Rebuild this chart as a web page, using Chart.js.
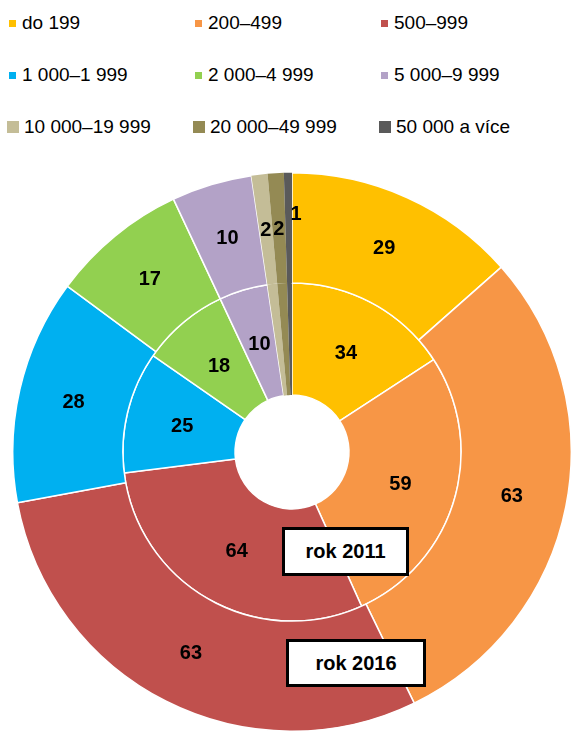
<!DOCTYPE html>
<html>
<head>
<meta charset="utf-8">
<script src="https://cdn.jsdelivr.net/npm/chart.js@4"></script>
<style>
  html, body { margin: 0; padding: 0; background: #fff; overflow: hidden; }
  body { width: 571px; height: 731px; position: relative; font-family: "Liberation Sans", Arial, sans-serif; }
  #legend .item { position: absolute; font-size: 19px; color: #000; white-space: nowrap; line-height: 22px; }
  #legend .box { position: absolute; }
  #chartBox { position: absolute; left: 12px; top: 172px; width: 560px; height: 560px; }
  .tag { position: absolute; box-sizing: border-box; border: 3px solid #000; background: #fff;
         font-weight: bold; font-size: 20px; text-align: center; }
</style>
</head>
<body>
<div id="legend"></div>
<div id="chartBox"><canvas id="myChart" width="560" height="560"></canvas></div>
<div class="tag" style="left:282px;top:527px;width:127px;height:49px;line-height:43px;">rok 2011</div>
<div class="tag" style="left:286px;top:639px;width:140px;height:48px;line-height:42px;">rok 2016</div>
<script>
const categories = ["do 199", "200–499", "500–999", "1 000–1 999", "2 000–4 999",
  "5 000–9 999", "10 000–19 999", "20 000–49 999", "50 000 a více"];
const values2016 = [29, 63, 63, 28, 17, 10, 2, 2, 1];
const values2011 = [34, 59, 64, 25, 18, 10, 2, 2, 1];
const colors = ["#FFC000", "#F79646", "#C0504D", "#00B0F0", "#92D050",
  "#B3A2C7", "#C4BD97", "#948A54", "#5A5A5A"];

// legend in 3 columns
const legend = document.getElementById("legend");
const colX = [9, 195, 381];
const rowY = [12, 64, 116];
categories.forEach((name, i) => {
  const col = i % 3;
  const row = Math.floor(i / 3);
  const big = row === 2;
  const size = big ? 12 : 7;
  const box = document.createElement("div");
  box.className = "box";
  box.style.left = (colX[col] - (big ? 2 : 0)) + "px";
  box.style.top = (rowY[row] + 11 - size / 2) + "px";
  box.style.width = size + "px";
  box.style.height = size + "px";
  box.style.background = colors[i];
  legend.appendChild(box);
  const item = document.createElement("div");
  item.className = "item";
  item.style.left = (colX[col] + (big ? 15 : 13)) + "px";
  item.style.top = rowY[row] + "px";
  item.textContent = name;
  legend.appendChild(item);
});

const borders = [1.5, 1.5, 1.5, 1.5, 1.5, 1.5, 0, 0, 0];

const labelPlugin = {
  id: "sliceLabels",
  afterDatasetsDraw(chart) {
    const ctx = chart.ctx;
    ctx.save();
    ctx.font = "bold 20px 'Liberation Sans', Arial, sans-serif";
    ctx.fillStyle = "#000";
    ctx.textAlign = "center";
    ctx.textBaseline = "middle";
    chart.data.datasets.forEach((ds, d) => {
      const meta = chart.getDatasetMeta(d);
      meta.data.forEach((arc, i) => {
        if (d === 1 && i > 5) return; // inner small slices have no labels
        let p = arc.getCenterPoint();
        if (d === 0 && i === 8) {
          // last tiny slice: label pushed outward so it does not collide
          p = { x: arc.x + 4, y: arc.y - arc.outerRadius * 0.855 };
        }
        ctx.fillText(String(ds.data[i]), p.x, p.y + 1);
      });
    });
    ctx.restore();
  }
};

const ctx = document.getElementById("myChart");
new Chart(ctx, {
  type: "doughnut",
  data: {
    labels: categories,
    datasets: [
      { label: "rok 2016", data: values2016, backgroundColor: colors,
        borderColor: "#fff", borderWidth: borders, weight: 110 },
      { label: "rok 2011", data: values2011, backgroundColor: colors,
        borderColor: "#fff", borderWidth: borders, weight: 112 }
    ]
  },
  options: {
    responsive: false,
    animation: false,
    cutout: "20.4%",
    layout: { padding: 0 },
    plugins: {
      legend: { display: false },
      tooltip: { enabled: false }
    }
  },
  plugins: [labelPlugin]
});
</script>
</body>
</html>
